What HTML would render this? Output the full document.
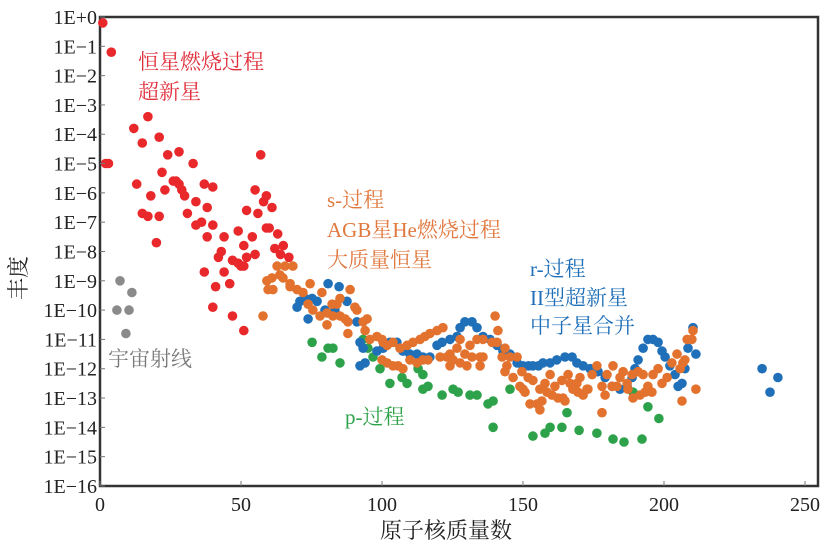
<!DOCTYPE html>
<html><head><meta charset="utf-8"><style>
body{margin:0;background:#fff;width:835px;height:558px;overflow:hidden}
svg{display:block}
text{font-family:"Liberation Serif","Noto Serif CJK SC",serif}
</style></head><body>
<svg id="chart" width="835" height="558" viewBox="0 0 835 558"></svg>
<script>
const xTicks=[0,50,100,150,200,250];
const yTicks=[0,-1,-2,-3,-4,-5,-6,-7,-8,-9,-10,-11,-12,-13,-14,-15,-16];
const yTickLabels=["1E+0","1E−1","1E−2","1E−3","1E−4","1E−5","1E−6","1E−7","1E−8","1E−9","1E−10","1E−11","1E−12","1E−13","1E−14","1E−15","1E−16"];
const redPts=[[1,-0.2],[4,-1.2],[2,-5.0],[3,-5.0],[12,-3.8],[17,-3.4],[15,-4.3],[21,-4.1],[13,-5.7],[18,-6.1],[15,-6.7],[17,-6.8],[21,-6.8],[20,-7.7],[24,-4.7],[28,-4.6],[33,-5.0],[22,-5.3],[23,-5.9],[26,-5.6],[27,-5.6],[28,-5.7],[29,-5.9],[30,-6.1],[31,-6.7],[34,-6.3],[37,-5.7],[38,-6.5],[40,-5.8],[34,-7.1],[36,-7.0],[40,-7.1],[38,-7.5],[37,-8.7],[41,-9.2],[40,-9.9],[43,-8.0],[42,-8.2],[44,-7.5],[44,-8.7],[46,-9.1],[47,-10.2],[49,-7.3],[47,-8.3],[49,-8.4],[50,-8.5],[51,-8.5],[51,-7.8],[52,-8.2],[54,-7.5],[55,-8.1],[51,-10.7],[52,-6.6],[56,-6.7],[55,-5.9],[57,-4.7],[58,-6.3],[59,-6.1],[61,-6.5],[59,-7.2],[60,-7.2],[63,-7.4],[62,-7.9],[65,-7.8],[64,-8.1],[67,-8.2]];
const grayPts=[[7.1,-9.0],[6.0,-10.0],[10.3,-10.0],[11.3,-9.4],[9.2,-10.8]];
const orangePts=[[62.8,-8.5],[65.6,-8.5],[68.4,-8.5],[59.2,-9.0],[61,-8.9],[59.6,-9.3],[61.3,-9.3],[63.8,-8.8],[64.9,-8.9],[67.4,-9.2],[69.9,-9.3],[72,-9.4],[57.8,-10.2],[67.4,-9.1],[74.5,-9.1],[78.7,-9.4],[88.7,-9.3],[85.1,-9.6],[82.3,-9.8],[84,-9.8],[73.8,-9.8],[75.5,-10.0],[78,-10.2],[80.5,-10.1],[82.6,-10.2],[85.1,-10.2],[86.9,-10.3],[87.9,-10.4],[80.5,-10.5],[87.9,-10.8],[90.4,-9.9],[91.1,-10.0],[94.7,-10.3],[93.3,-10.4],[94,-10.7],[95.7,-11.0],[98.2,-10.9],[100,-11.0],[100.4,-11.1],[100,-11.7],[101.8,-11.8],[103.9,-11.9],[105.7,-11.9],[107.4,-12.0],[101.8,-11.2],[103.9,-11.1],[106.4,-11.3],[108.9,-11.2],[111,-11.1],[113.5,-11.0],[115.2,-10.9],[117,-10.8],[119.5,-10.7],[121.6,-10.6],[109.9,-11.7],[112.4,-11.8],[114.5,-11.7],[116.3,-11.7],[120.6,-11.6],[123,-11.6],[124.1,-11.9],[124.1,-11.5],[126.6,-11.3],[127.7,-11.0],[125.2,-11.7],[127.7,-11.8],[130.1,-11.9],[129.4,-11.5],[131.2,-11.2],[133.7,-11.0],[131.9,-11.6],[134.8,-11.6],[134.8,-11.9],[140.1,-10.2],[141.1,-10.7],[135.8,-11.0],[139,-11.1],[140.8,-11.1],[143.6,-11.3],[145.4,-11.6],[147.9,-11.6],[144.3,-11.9],[146.5,-12.3],[148.9,-12.6],[150.7,-12.8],[152.5,-13.2],[155,-13.2],[135.8,-11.6],[142.6,-11.6],[143.6,-12.1],[149.6,-12.1],[151.8,-12.3],[153.5,-12.4],[150,-12.7],[156.7,-13.1],[156,-13.4],[157.8,-12.5],[159.6,-12.2],[156,-12.7],[158.5,-12.8],[160.3,-12.9],[161.3,-12.6],[162.4,-13.0],[164.2,-13.0],[164.9,-13.1],[163.8,-12.4],[166,-12.2],[166.7,-12.5],[167.7,-12.7],[169.1,-12.5],[170.2,-12.3],[169.5,-12.8],[171.3,-12.9],[172.7,-12.7],[174.5,-12.2],[176.2,-11.9],[178,-12.6],[179.1,-12.9],[173,-12.7],[178,-13.5],[181.9,-11.9],[179.8,-12.2],[181.6,-12.6],[183.3,-12.6],[184.4,-12.3],[185.5,-12.1],[186.9,-12.5],[187.2,-12.7],[189,-13.0],[188.7,-12.2],[190.8,-12.1],[192.6,-12.2],[191.5,-12.9],[193.3,-12.8],[195.7,-12.8],[194.3,-12.6],[196.1,-12.2],[197.9,-12.0],[199.3,-12.5],[201.1,-12.3],[202.8,-11.8],[204.6,-11.5],[206.4,-13.1],[205.7,-12.0],[206.7,-11.8],[207.4,-11.7],[208.2,-11.0],[209.9,-11.0],[210.3,-10.7],[211.3,-12.7]];
const bluePts=[[69.9,-9.9],[70.9,-9.7],[72.7,-9.6],[75.2,-9.6],[77,-9.7],[80.9,-9.1],[84.8,-9.2],[87.6,-9.7],[73.8,-10.3],[79.8,-10.0],[83.3,-10.0],[92.2,-11.1],[93.3,-11.3],[94,-11.8],[92.2,-11.9],[91.1,-10.4],[98.2,-11.4],[100.4,-11.3],[102.8,-11.1],[105.3,-11.1],[107.4,-11.4],[109.9,-11.5],[112.4,-11.5],[114.5,-11.6],[117,-11.6],[119.5,-11.2],[121.3,-11.1],[124.1,-11.0],[126.6,-10.9],[127.7,-10.6],[129.4,-10.4],[131.9,-10.4],[133.7,-10.6],[135.8,-10.9],[138.3,-11.0],[140.8,-11.2],[142.9,-11.4],[145.4,-11.5],[147.9,-11.8],[150,-11.9],[152,-11.9],[153.5,-11.9],[155.5,-11.9],[157.1,-11.8],[159.6,-11.8],[162,-11.7],[164.9,-11.6],[167.4,-11.6],[169.1,-11.8],[171.3,-11.9],[173.8,-12.0],[176.6,-12.1],[179.1,-12.3],[181.6,-12.6],[184.4,-12.7],[186.9,-12.6],[188.7,-12.3],[189.7,-12.0],[190.8,-11.7],[192.6,-11.3],[194.3,-11.0],[196.1,-11.0],[197.9,-11.1],[199.3,-11.4],[200.4,-11.6],[202.1,-11.9],[203.9,-12.2],[205,-12.6],[206.4,-12.5],[207.4,-12.0],[208.5,-11.3],[210.3,-10.6],[211.3,-11.5],[234.8,-12.0],[240.4,-12.3],[237.6,-12.8]];
const greenPts=[[75.2,-11.1],[80.9,-11.3],[82.6,-11.3],[78.7,-11.6],[85.1,-11.8],[93.3,-11.0],[95,-11.3],[96.8,-11.6],[99.3,-12.0],[102.8,-12.5],[107.1,-12.3],[108.9,-12.5],[112.8,-12.0],[114.5,-12.2],[114.5,-12.7],[116.3,-12.6],[121.3,-12.9],[125.2,-12.7],[127,-12.8],[131.2,-12.9],[133.7,-12.9],[137.6,-13.2],[139.4,-13.1],[139.4,-14.0],[145.4,-12.7],[153.5,-14.3],[157.8,-14.2],[159.6,-14.0],[163.8,-14.0],[165.6,-13.5],[169.9,-14.1],[176.2,-14.2],[181.9,-14.4],[185.8,-14.5],[192.2,-14.4],[194.3,-13.3],[198.2,-13.7],[189,-12.8]];

const NS='http://www.w3.org/2000/svg';
const svg=document.getElementById('chart');
const X0=100,XS=2.82,Y0=17,YS=29.31;
function sx(m){return X0+m*XS;}
function sy(l){return Y0-l*YS;}
function mk(tag,attrs,parent){const e=document.createElementNS(NS,tag);for(const k in attrs)e.setAttribute(k,attrs[k]);(parent||svg).appendChild(e);return e;}

// frame
const frame=mk('rect',{x:100,y:17,width:718,height:469,fill:'none',stroke:'#333','stroke-width':2.5});



// series
function series(pts,color,name){
  const g=mk('g',{fill:color});
  
  
  pts.forEach(p=>{
    const c=mk('circle',{cx:sx(p[0]).toFixed(1),cy:sy(p[1]).toFixed(1),r:4.8},g);
    
    
  });
}
series(grayPts,'#8a8a8a','cosmic-ray-series');
series(greenPts,'#2ea24a','p-process-series');
series(bluePts,'#1f70b8','r-process-series');
series(orangePts,'#e2722e','s-process-series');
series(redPts,'#e8282a','stellar-burning-series');

// ticks
const tg=mk('g',{});


xTicks.forEach(t=>{
  mk('line',{x1:sx(t),x2:sx(t),y1:486,y2:481,stroke:'#777','stroke-width':1},tg);
  const tx=mk('text',{x:sx(t),y:511,'text-anchor':'middle','font-size':20,fill:'#222'},tg);
  tx.textContent=t;
  
  
});
const yg=mk('g',{});


yTicks.forEach((t,i)=>{
  mk('line',{x1:100,x2:105,y1:sy(t),y2:sy(t),stroke:'#777','stroke-width':1},yg);
  const tx=mk('text',{x:97,y:sy(t)+7,'text-anchor':'end','font-size':20,fill:'#222'},yg);
  tx.textContent=yTickLabels[i];
  
  
});

// labels
function label(x,y,txt,color,name,size){
  const t=mk('text',{x:x,y:y,'font-size':size||21,fill:color});
  t.textContent=txt;
  
  
}
label(138,69,'恒星燃烧过程','#e0303c','label-stellar-burning');
label(138,99,'超新星','#e0303c','label-supernova');
label(327,207,'s-过程','#e07a40','label-s-process');
label(327,237,'AGB星He燃烧过程','#e07a40','label-agb');
label(327,267,'大质量恒星','#e07a40','label-massive-stars');
label(530,276,'r-过程','#1f70b8','label-r-process');
label(530,305,'II型超新星','#1f70b8','label-type-ii-sn');
label(530,333,'中子星合并','#1f70b8','label-ns-merger');
label(108,366,'宇宙射线','#7a7a7a','label-cosmic-rays');
label(345,424,'p-过程','#2ea24a','label-p-process');
label(380,538,'原子核质量数','#222','x-axis-title',22);
const yt=mk('text',{x:0,y:0,'font-size':22,fill:'#222','text-anchor':'middle',transform:'translate(26,278) rotate(-90)'});
yt.textContent='丰度';


</script>
</body></html>
